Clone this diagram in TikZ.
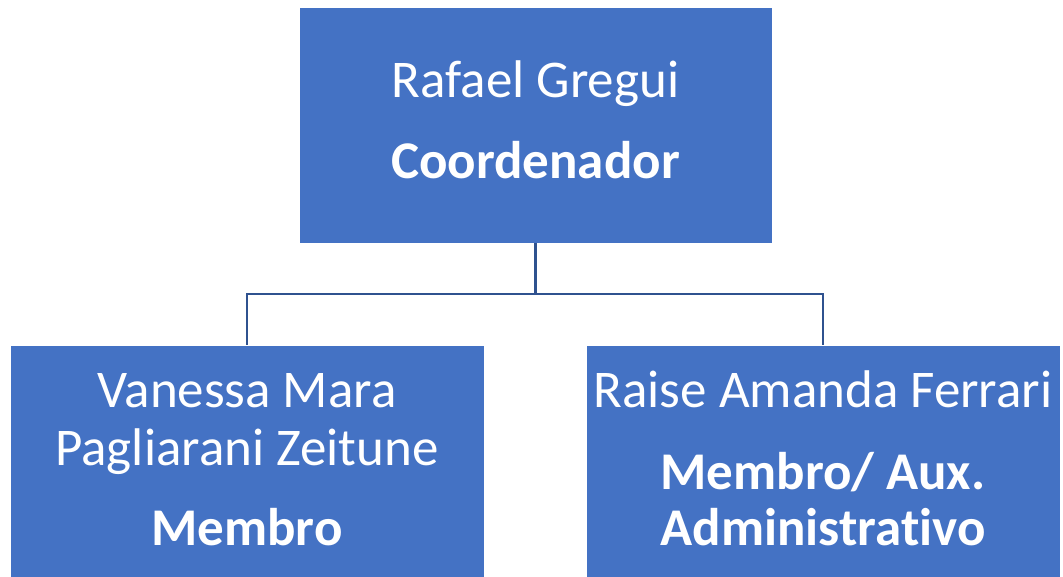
\documentclass[tikz,border=0pt]{standalone}
\usepackage{fontspec}
\setmainfont[Ligatures=NoCommon]{Carlito}
\definecolor{boxblue}{HTML}{4472C4}
\definecolor{linkblue}{HTML}{2F528F}
\begin{document}
\begin{tikzpicture}[x=1pt,y=-1pt,
  orgbox/.style={draw=white,line width=0.8pt,fill=boxblue,inner sep=0pt,outer sep=0pt},
  lbl/.style={text=white,anchor=base,inner sep=0pt,font=\fontsize{53}{63}\selectfont},
  lblb/.style={text=white,anchor=base,inner sep=0pt,font=\fontsize{53}{63}\selectfont\bfseries},
  link/.style={draw=linkblue,line width=2.4pt}]
\useasboundingbox (0,0) rectangle (1063,577);
\clip (0,0) rectangle (1063,577);
\fill[white] (0,0) rectangle (1063,577);
\node[orgbox,minimum width=473pt,minimum height=236pt] (top) at (535.5,125) {};
\node[orgbox,minimum width=474pt,minimum height=250pt] (bl) at (247,470) {};
\node[orgbox,minimum width=474pt,minimum height=250pt] (br) at (823,470) {};
\coordinate (mid) at (535.5,294);
\draw[link] (top.south) -- (mid);
\draw[link] (bl.north) |- (mid) -| (br.north);
\node[lbl] (t1) at (535.5,98) {Rafael Gregui};
\node[lblb] (t2) at (535.5,179) {Coordenador};
\node[lbl] (l1) at (247,407) {Vanessa Mara};
\node[lbl] (l2) at (247,465) {Pagliarani Zeitune};
\node[lblb] (l3) at (247,545) {Membro};
\node[lbl] (r1) at (823,407) {Raise Amanda Ferrari};
\node[lblb] (r2) at (823,489) {Membro/ Aux.};
\node[lblb] (r3) at (823,545) {Administrativo};
\end{tikzpicture}
\end{document}
